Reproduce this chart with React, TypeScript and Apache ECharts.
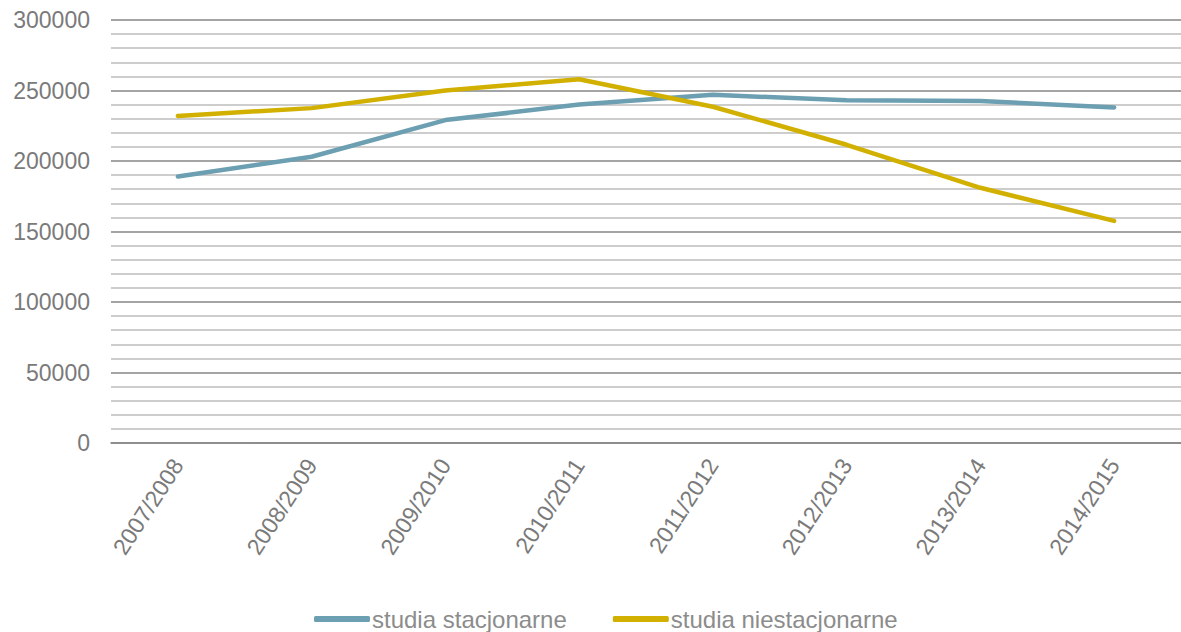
import React, { useEffect, useRef } from "react";
import * as echarts from "echarts";

const categories = [
  "2007/2008",
  "2008/2009",
  "2009/2010",
  "2010/2011",
  "2011/2012",
  "2012/2013",
  "2013/2014",
  "2014/2015",
];
const stacjonarne = [189000, 203000, 229000, 240000, 247000, 243000, 242500, 238000];
const niestacjonarne = [232000, 237500, 250000, 258000, 238500, 211500, 181000, 157500];
const seriesNames = ["studia stacjonarne", "studia niestacjonarne"];

const FONT = "'Liberation Sans', Arial, sans-serif";

export default function App() {
  const ref = useRef<HTMLDivElement>(null);
  useEffect(() => {
    if (!ref.current) return;
    const chart = echarts.init(ref.current, undefined, { renderer: "svg" });
    chart.setOption({
      animation: false,
      backgroundColor: "#ffffff",
      textStyle: { fontFamily: FONT },
      grid: { left: 111, width: 1072, top: 20, bottom: 189, containLabel: false },
      legend: {
        top: 607,
        left: 314,
        icon: "roundRect",
        itemWidth: 56,
        itemHeight: 6,
        itemGap: 46,
        padding: 0,
        textStyle: { fontSize: 24, color: "#8c8c8c", fontFamily: FONT, padding: [0, 0, 0, -3] },
        data: seriesNames,
      },
      xAxis: {
        type: "category",
        data: categories,
        boundaryGap: true,
        axisLine: { show: true, lineStyle: { color: "#868686", width: 1.5 } },
        axisTick: { show: false },
        axisLabel: {
          rotate: 57,
          fontSize: 23,
          color: "#7a7a7a",
          fontFamily: FONT,
          margin: 18,
        },
      },
      yAxis: {
        type: "value",
        min: 0,
        max: 300000,
        interval: 50000,
        axisLine: { show: false },
        axisTick: { show: false },
        axisLabel: {
          fontSize: 23,
          color: "#7a7a7a",
          fontFamily: FONT,
          margin: 21,
          formatter: (v: number) => String(v),
        },
        splitLine: { show: true, lineStyle: { color: "#868686", width: 1.5 } },
        minorTick: { show: false, splitNumber: 5 },
        minorSplitLine: { show: true, lineStyle: { color: "#bdbdbd", width: 1.5 } },
      },
      series: [
        {
          name: seriesNames[0],
          type: "line",
          data: stacjonarne,
          showSymbol: false,
          symbol: "none",
          color: "#6b9fb1",
          lineStyle: { width: 4.5, color: "#6b9fb1", cap: "round", join: "round" },
        },
        {
          name: seriesNames[1],
          type: "line",
          data: niestacjonarne,
          showSymbol: false,
          symbol: "none",
          color: "#d2b000",
          lineStyle: { width: 4.5, color: "#d2b000", cap: "round", join: "round" },
        },
      ],
    });
    return () => chart.dispose();
  }, []);
  return (
    <div
      ref={ref}
      style={{ position: "absolute", left: 0, top: 0, width: 1181, height: 632, background: "#fff" }}
    />
  );
}
